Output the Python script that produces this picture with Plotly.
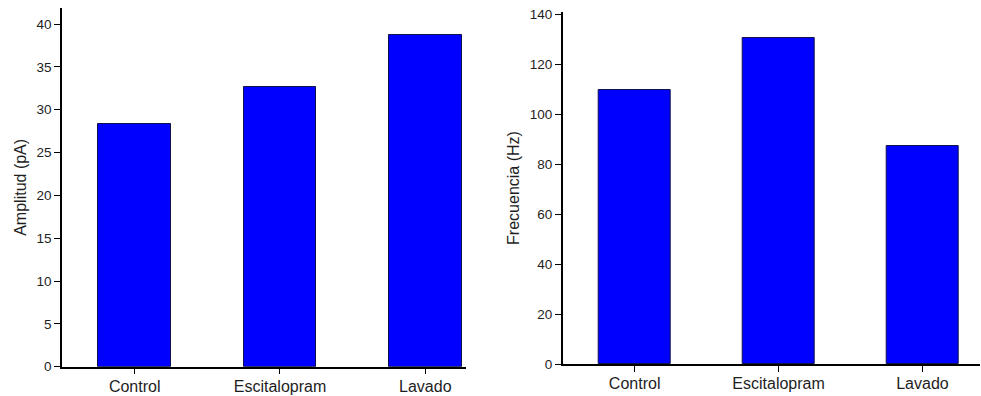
import plotly.graph_objects as go

categories = ["Control", "Escitalopram", "Lavado"]
amplitud = [28.3, 32.6, 38.7]
frecuencia = [109.6, 130.4, 87.2]
amp_ticks = [0, 5, 10, 15, 20, 25, 30, 35, 40]
frec_ticks = [0, 20, 40, 60, 80, 100, 120, 140]

W, H = 981, 396
bar_color = "#0000FF"
edge = "#10104a"
font_fam = "Liberation Sans, Arial, sans-serif"
txt = "#1e1e1e"

fig = go.Figure()
fig.add_trace(go.Bar(x=[0, 1, 2], y=amplitud, width=0.5, marker=dict(color=bar_color, line=dict(color=edge, width=1)),
                     xaxis="x", yaxis="y", showlegend=False))
fig.add_trace(go.Bar(x=[0, 1, 2], y=frecuencia, width=0.5, marker=dict(color=bar_color, line=dict(color=edge, width=1)),
                     xaxis="x2", yaxis="y2", showlegend=False))

def xax(domain, rng):
    return dict(domain=domain, range=rng, tickmode="array", tickvals=[0, 1, 2], ticktext=categories,
                showline=True, linecolor="black", linewidth=1.5, ticks="outside", ticklen=6, tickcolor="black",
                tickwidth=1.2, showgrid=False, zeroline=False, automargin=False, ticklabelstandoff=-2,
                tickfont=dict(family=font_fam, size=16, color=txt))

def yax(domain, rng, ticks, title, anchor):
    return dict(domain=domain, range=rng, tickmode="array", tickvals=ticks, anchor=anchor,
                showline=True, linecolor="black", linewidth=1.5, ticks="outside", ticklen=6, tickcolor="black",
                tickwidth=1.2, showgrid=False, zeroline=False, automargin=False,
                tickfont=dict(family=font_fam, size=13.5, color=txt),
                title=dict(text=title, font=dict(family=font_fam, size=16, color=txt), standoff=6))

fig.update_layout(
    width=W, height=H,
    margin=dict(l=0, r=0, t=0, b=0),
    paper_bgcolor="white", plot_bgcolor="white",
    xaxis=xax([62 / W, 466 / W], [-0.5, 2.28]) | dict(anchor="y"),
    yaxis=yax([(H - 366.7) / H, (H - 8) / H], [0, 41.87], amp_ticks, "Amplitud (pA)", "x"),
    xaxis2=xax([562.7 / W, 980 / W], [-0.5, 2.4]) | dict(anchor="y2"),
    yaxis2=yax([(H - 364) / H, (H - 12) / H], [0, 140.8], frec_ticks, "Frecuencia (Hz)", "x2"),
    bargap=0,
)

fig.write_html("out.html")
